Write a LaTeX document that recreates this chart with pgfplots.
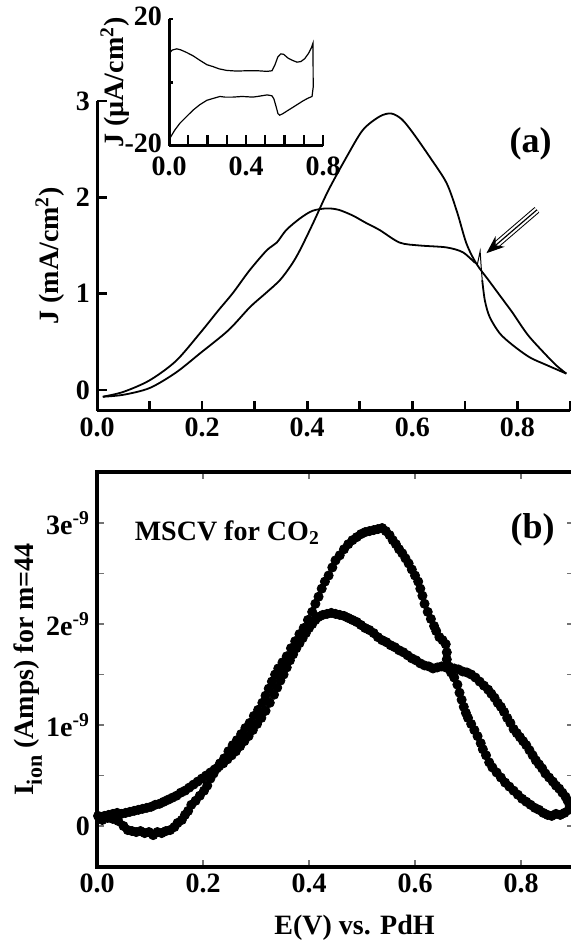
\documentclass[border=0pt]{standalone}
\usepackage{fontspec}
\setmainfont{Liberation Serif}
\usepackage{pgfplots}
\pgfplotsset{compat=1.18}
\usetikzlibrary{arrows.meta}

\newcommand{\lbl}{\bfseries\fontsize{14}{16}\selectfont}
\newcommand{\plabel}{\bfseries\fontsize{18}{20}\selectfont}

\begin{document}
\begin{tikzpicture}
\path[use as bounding box] (0,0) rectangle (285.5pt,-470.5pt);

% ---- panel (a): current density
\begin{axis}[
  at={(48.5pt,-205.25pt)}, anchor=south west,
  scale only axis, width=236.5pt, height=154.75pt,
  xmin=0, xmax=0.9, ymin=-0.213, ymax=3,
  axis x line*=bottom, axis y line*=left,
  axis line style={line width=1.5pt},
  tick align=inside, major tick length=5pt,
  tick style={line width=1.3pt, black},
  xtick={0,0.1,0.2,0.3,0.4,0.5,0.6,0.7,0.8,0.9},
  xticklabels={0.0,,0.2,,0.4,,0.6,,0.8,},
  ytick={0,1,2,3}, yticklabels={0,1,2,3},
  tick label style={font=\lbl},
  every axis y label/.style={at={(axis description cs:0,0.5)}, xshift=-23.5pt, rotate=90, anchor=center},
  ylabel={J (mA/cm\textsuperscript{2})},
  label style={font=\lbl},
]
\addplot[smooth, line width=0.9pt] coordinates {
 (0.011,-0.07) (0.05,-0.05) (0.10,0.02) (0.15,0.18) (0.196,0.38) (0.25,0.62) (0.291,0.86)
 (0.32,1.00) (0.348,1.14) (0.37,1.30) (0.386,1.45) (0.411,1.73) (0.44,2.07) (0.475,2.42)
 (0.506,2.70) (0.538,2.84) (0.560,2.87) (0.58,2.81) (0.601,2.67) (0.633,2.42) (0.665,2.15)
 (0.685,1.85) (0.703,1.52) (0.722,1.31) (0.745,1.14) (0.768,0.97) (0.791,0.80) (0.82,0.57)
 (0.855,0.36) (0.875,0.25) (0.893,0.17)};
\addplot[smooth, line width=0.9pt] coordinates {
 (0.011,-0.07) (0.05,-0.02) (0.10,0.10) (0.15,0.30) (0.196,0.59) (0.23,0.82) (0.259,1.01)
 (0.29,1.24) (0.323,1.45) (0.342,1.53) (0.36,1.66) (0.386,1.78) (0.41,1.86) (0.437,1.885)
 (0.46,1.87) (0.487,1.81) (0.51,1.74) (0.538,1.66) (0.576,1.53) (0.614,1.50) (0.665,1.48)
 (0.696,1.43) (0.719,1.32)};
\addplot[line width=0.5pt] coordinates {
 (0.719,1.32) (0.724,1.31) (0.729,1.44) (0.731,1.28) (0.733,1.14)};
\addplot[smooth, line width=0.9pt] coordinates {
 (0.733,1.14) (0.738,0.93) (0.747,0.76) (0.766,0.59) (0.79,0.47) (0.823,0.34)
 (0.855,0.26) (0.893,0.17)};
% triple-line arrow
\draw[line width=0.5pt, double, double distance=2.6pt, shorten >=6pt]
  (axis cs:0.837,1.87) -- (axis cs:0.741,1.42);
\draw[line width=0.6pt, -{Stealth[length=9pt,width=7pt]}]
  (axis cs:0.837,1.87) -- (axis cs:0.741,1.42);
\node[font=\plabel, anchor=base] at (axis cs:0.825,2.47) {(a)};
\end{axis}

% ---- inset: blank CV
\begin{axis}[
  at={(84.5pt,-73pt)}, anchor=south west,
  scale only axis, width=77pt, height=63.5pt,
  xmin=0, xmax=0.8, ymin=-20, ymax=20,
  axis x line*=bottom, axis y line*=left,
  axis line style={line width=1.5pt},
  tick align=inside, major tick length=2pt, minor tick length=5.3pt,
  tick style={line width=1.2pt, black},
  xtick={0,0.4,0.8}, xticklabels={0.0,0.4,0.8},
  minor xtick={0.1,0.2,0.3,0.4,0.5,0.6,0.7,0.8},
  ytick={-20,0,20}, yticklabels={-20,,20},
  tick label style={font=\lbl},
  xticklabel style={yshift=-2pt},
  yticklabel style={yshift=1.5pt},
  every axis y label/.style={at={(axis description cs:0,0.5)}, xshift=-27pt, rotate=90, anchor=center},
  ylabel={J (\textmu A/cm\textsuperscript{2})},
  label style={font=\lbl},
]
\addplot[line width=0.6pt] coordinates {
 (0.0,9.0) (0.016,10.2) (0.04,10.6) (0.06,10.3) (0.09,9.5) (0.125,8.4) (0.16,7.0)
 (0.197,5.6) (0.229,5.0) (0.26,4.3) (0.30,3.8) (0.35,3.6) (0.405,3.7) (0.46,3.7)
 (0.509,3.5) (0.535,3.7) (0.55,5.5) (0.565,8.0) (0.58,9.0) (0.595,8.9) (0.62,7.6)
 (0.644,6.9) (0.665,6.4) (0.685,6.6) (0.705,7.5) (0.725,9.2) (0.740,11.0) (0.748,12.4)
 (0.749,-1.5) (0.743,-4.4) (0.72,-5.0) (0.696,-5.8) (0.67,-6.8) (0.644,-7.8) (0.615,-8.9)
 (0.592,-9.8) (0.575,-10.3) (0.566,-9.8) (0.556,-7.5) (0.545,-5.2) (0.535,-4.2) (0.51,-3.9)
 (0.47,-4.3) (0.436,-4.6) (0.38,-4.4) (0.332,-4.6) (0.29,-4.6) (0.265,-4.4) (0.23,-5.0)
 (0.197,-5.6) (0.16,-7.0) (0.125,-8.7) (0.09,-10.8) (0.057,-12.8) (0.03,-15.0)
 (0.005,-17.5) (0.0,-18.5)};
\end{axis}

% ---- panel (b): mass signal m=44
\begin{axis}[
  at={(48.5pt,-433.5pt)}, anchor=south west,
  scale only axis, width=238.5pt, height=197.5pt,
  xmin=0, xmax=0.9, ymin=-0.406, ymax=3.505,
  axis line style={line width=1.8pt},
  tick align=inside, major tick length=3.5pt, minor tick length=3.5pt,
  tick style={line width=0.6pt, black!55},
  xtick={0,0.2,0.4,0.6,0.8}, xticklabels={0.0,0.2,0.4,0.6,0.8},
  ytick={0,1,2,3},
  yticklabels={0,1e\textsuperscript{-9},2e\textsuperscript{-9},3e\textsuperscript{-9}},
  minor ytick={0.5,1.5,2.5},
  tick label style={font=\lbl},
  every axis y label/.style={at={(axis description cs:0,0.5)}, xshift=-34.5pt, rotate=90, anchor=center},
  every axis x label/.style={at={(axis description cs:0.54,0)}, anchor=center, yshift=-30.5pt},
  ylabel={I\raisebox{-0.3em}{\fontsize{11}{12}\selectfont ion} (Amps) for m=44},
  xlabel={E(V) vs. PdH},
  label style={font=\lbl},
]
% anodic sweep
\addplot[only marks, mark=*, mark size=2.3pt, black] coordinates {
 (0.002,0.10) (0.010,0.06) (0.020,0.08) (0.030,0.07) (0.040,0.05) (0.050,0.00) (0.058,-0.04)
 (0.066,-0.05) (0.074,-0.06) (0.082,-0.05) (0.090,-0.07) (0.098,-0.06) (0.106,-0.09)
 (0.114,-0.06) (0.122,-0.07) (0.130,-0.05) (0.138,-0.04) (0.146,-0.01) (0.152,0.03)
 (0.160,0.06) (0.166,0.11) (0.172,0.15) (0.178,0.21) (0.186,0.25) (0.194,0.30) (0.202,0.35)
 (0.208,0.40) (0.214,0.47) (0.220,0.52) (0.226,0.57) (0.232,0.62) (0.240,0.67) (0.248,0.74)
 (0.256,0.80) (0.264,0.85) (0.272,0.91) (0.280,0.97) (0.288,1.02) (0.296,1.09) (0.304,1.15)
 (0.312,1.22) (0.318,1.29) (0.324,1.36) (0.330,1.43) (0.336,1.50) (0.342,1.56) (0.350,1.62)
 (0.358,1.68) (0.366,1.76) (0.374,1.83) (0.382,1.90) (0.390,1.96) (0.398,2.04) (0.406,2.12)
 (0.412,2.20) (0.418,2.27) (0.424,2.35) (0.430,2.42) (0.437,2.48) (0.444,2.56) (0.450,2.63)
 (0.458,2.68) (0.466,2.74) (0.474,2.79) (0.482,2.83) (0.490,2.86) (0.498,2.89) (0.506,2.91)
 (0.514,2.92) (0.522,2.93) (0.530,2.94) (0.538,2.95) (0.545,2.92) (0.552,2.88) (0.558,2.83)
 (0.564,2.79) (0.570,2.74) (0.576,2.70) (0.582,2.65) (0.588,2.60) (0.594,2.54) (0.600,2.48)
 (0.606,2.42) (0.610,2.35) (0.614,2.28) (0.618,2.20) (0.624,2.12) (0.630,2.05) (0.636,1.98)
 (0.640,1.93) (0.646,1.87) (0.652,1.84) (0.658,1.80) (0.660,1.72) (0.660,1.65) (0.664,1.58)
 (0.668,1.52) (0.674,1.47) (0.680,1.40) (0.684,1.32) (0.688,1.25) (0.692,1.18) (0.696,1.12)
 (0.700,1.07) (0.706,1.01) (0.712,0.95) (0.718,0.89) (0.724,0.82) (0.728,0.76) (0.734,0.70)
 (0.740,0.63) (0.746,0.58) (0.754,0.53) (0.762,0.48) (0.770,0.43) (0.778,0.39) (0.786,0.35)
 (0.794,0.31) (0.802,0.27) (0.810,0.24) (0.818,0.21) (0.826,0.18) (0.834,0.16) (0.842,0.13)
 (0.850,0.11) (0.858,0.10) (0.866,0.12) (0.874,0.11) (0.882,0.13) (0.890,0.16)};
% cathodic sweep
\addplot[only marks, mark=*, mark size=2.3pt, black] coordinates {
 (0.892,0.20) (0.888,0.25) (0.884,0.29) (0.878,0.33) (0.872,0.37) (0.866,0.40) (0.860,0.44)
 (0.853,0.48) (0.846,0.52) (0.840,0.57) (0.834,0.61) (0.828,0.65) (0.822,0.70) (0.816,0.75)
 (0.810,0.80) (0.804,0.84) (0.798,0.88) (0.792,0.92) (0.786,0.96) (0.780,1.02) (0.774,1.07)
 (0.768,1.13) (0.762,1.18) (0.756,1.22) (0.750,1.27) (0.744,1.31) (0.738,1.35) (0.730,1.39)
 (0.722,1.43) (0.714,1.47) (0.706,1.50) (0.698,1.52) (0.690,1.53) (0.682,1.55) (0.674,1.56)
 (0.666,1.56) (0.658,1.57) (0.650,1.58) (0.642,1.57) (0.634,1.56) (0.626,1.58) (0.618,1.59)
 (0.610,1.61) (0.602,1.64) (0.594,1.66) (0.586,1.69) (0.578,1.72) (0.570,1.74) (0.562,1.77)
 (0.554,1.79) (0.546,1.82) (0.538,1.84) (0.530,1.87) (0.522,1.91) (0.514,1.94) (0.506,1.96)
 (0.498,1.99) (0.490,2.02) (0.482,2.04) (0.474,2.06) (0.466,2.08) (0.458,2.09) (0.450,2.10)
 (0.442,2.11) (0.434,2.10) (0.426,2.09) (0.418,2.07) (0.412,2.04) (0.406,2.00) (0.400,1.96)
 (0.394,1.91) (0.388,1.86) (0.382,1.81) (0.376,1.76) (0.370,1.70) (0.364,1.64) (0.358,1.57)
 (0.352,1.50) (0.346,1.44) (0.340,1.37) (0.334,1.30) (0.326,1.22) (0.318,1.14) (0.310,1.07)
 (0.302,1.01) (0.294,0.95) (0.286,0.89) (0.278,0.84) (0.270,0.79) (0.262,0.74) (0.254,0.70)
 (0.246,0.66) (0.238,0.62) (0.230,0.59) (0.222,0.56) (0.214,0.53) (0.206,0.50) (0.198,0.47)
 (0.190,0.44) (0.182,0.41) (0.174,0.38) (0.166,0.35) (0.158,0.33) (0.150,0.30) (0.142,0.28)
 (0.134,0.26) (0.126,0.24) (0.118,0.22) (0.110,0.21) (0.102,0.19) (0.094,0.18) (0.086,0.17)
 (0.078,0.16) (0.070,0.15) (0.062,0.14) (0.054,0.13) (0.046,0.12) (0.038,0.13) (0.030,0.12)
 (0.022,0.11) (0.014,0.10) (0.006,0.09)};
\node[font=\lbl, anchor=base west] at (axis cs:0.058,2.83) {MSCV for CO\textsubscript{2}};
\node[font=\plabel, anchor=base] at (axis cs:0.822,2.85) {(b)};
\end{axis}
\end{tikzpicture}
\end{document}
